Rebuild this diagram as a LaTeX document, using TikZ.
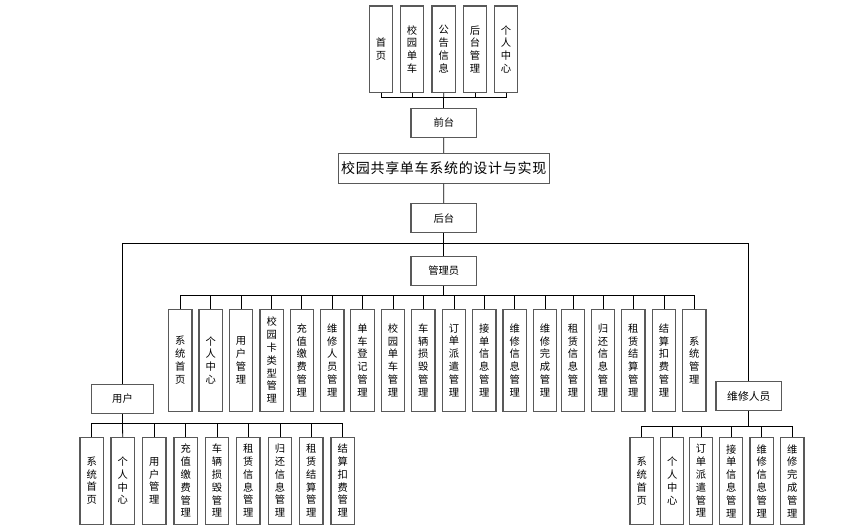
\documentclass[tikz,border=0pt]{standalone}
\usepackage{fontspec}
\newfontfamily\cjk{Noto Sans CJK SC}
\usepackage{tikz}
\usetikzlibrary{positioning, calc}
\tikzset{x=1pt, y=-1pt}
\tikzset{box/.style={draw=black!65, line width=1.1pt, inner sep=0pt, align=center, font=\cjk\fontsize{10.3}{12.8}\selectfont}}
\tikzset{col/.style={box, minimum width=23.4pt, text width=12pt}}
\tikzset{role/.style={box, minimum width=65.7pt, minimum height=29pt}}
\tikzset{link/.style={draw=black, line width=0.8pt}}

\begin{document}
\begin{tikzpicture}

      \useasboundingbox (0,0) rectangle (844,530);

      % TOP LEVEL

      \node[box, minimum width=210.7pt, minimum height=30pt, font=\cjk\fontsize{14}{16}\selectfont\addfontfeature{LetterSpace=5}] (title) at (443.7,168.3) {校园共享单车系统的设计与实现};
      \node[role] (qt) at (443.8,122.8) {前台};
      \node[role] (ht) at (443.8,218.2) {后台};
      \node[role] (gly) at (443.8,270.8) {管理员};
      \node[role, minimum width=61.6pt] (yh) at (122.5,398.7) {用户};
      \node[role, font=\cjk\fontsize{10.8}{12.8}\selectfont] (wx) at (748.8,396.2) {维修人员};

      % FRONT PAGES

      \node[col, minimum height=86.7pt] (q1) at (381,49.3) {首\\页};
      \node[col, minimum height=86.7pt] (q2) at (412,49.3) {校\\园\\单\\车};
      \node[col, minimum height=86.7pt] (q3) at (443.7,49.3) {公\\告\\信\\息};
      \node[col, minimum height=86.7pt] (q4) at (475,49.3) {后\\台\\管\\理};
      \node[col, minimum height=86.7pt] (q5) at (506,49.3) {个\\人\\中\\心};

      % ADMIN PAGES

      \node[col, minimum height=101.7pt] (m1) at (180.3,360.2) {系\\统\\首\\页};
      \node[col, minimum height=101.7pt] (m2) at (210.7,360.2) {个\\人\\中\\心};
      \node[col, minimum height=101.7pt] (m3) at (241,360.2) {用\\户\\管\\理};
      \node[col, minimum height=101.7pt] (m4) at (271.7,360.2) {校\\园\\卡\\类\\型\\管\\理};
      \node[col, minimum height=101.7pt] (m5) at (301.8,360.2) {充\\值\\缴\\费\\管\\理};
      \node[col, minimum height=101.7pt] (m6) at (332.3,360.2) {维\\修\\人\\员\\管\\理};
      \node[col, minimum height=101.7pt] (m7) at (362.5,360.2) {单\\车\\登\\记\\管\\理};
      \node[col, minimum height=101.7pt] (m8) at (393,360.2) {校\\园\\单\\车\\管\\理};
      \node[col, minimum height=101.7pt] (m9) at (423.3,360.2) {车\\辆\\损\\毁\\管\\理};
      \node[col, minimum height=101.7pt] (m10) at (454,360.2) {订\\单\\派\\遣\\管\\理};
      \node[col, minimum height=101.7pt] (m11) at (484.3,360.2) {接\\单\\信\\息\\管\\理};
      \node[col, minimum height=101.7pt] (m12) at (514.7,360.2) {维\\修\\信\\息\\管\\理};
      \node[col, minimum height=101.7pt] (m13) at (545,360.2) {维\\修\\完\\成\\管\\理};
      \node[col, minimum height=101.7pt] (m14) at (573,360.2) {租\\赁\\信\\息\\管\\理};
      \node[col, minimum height=101.7pt] (m15) at (603,360.2) {归\\还\\信\\息\\管\\理};
      \node[col, minimum height=101.7pt] (m16) at (633.3,360.2) {租\\赁\\结\\算\\管\\理};
      \node[col, minimum height=101.7pt] (m17) at (664,360.2) {结\\算\\扣\\费\\管\\理};
      \node[col, minimum height=101.7pt] (m18) at (694.3,360.2) {系\\统\\管\\理};

      % USER PAGES

      \node[col, minimum height=86.7pt] (y1) at (91.7,480.7) {系\\统\\首\\页};
      \node[col, minimum height=86.7pt] (y2) at (122.7,480.7) {个\\人\\中\\心};
      \node[col, minimum height=86.7pt] (y3) at (154.3,480.7) {用\\户\\管\\理};
      \node[col, minimum height=86.7pt] (y4) at (185.7,480.7) {充\\值\\缴\\费\\管\\理};
      \node[col, minimum height=86.7pt] (y5) at (217,480.7) {车\\辆\\损\\毁\\管\\理};
      \node[col, minimum height=86.7pt] (y6) at (248.3,480.7) {租\\赁\\信\\息\\管\\理};
      \node[col, minimum height=86.7pt] (y7) at (280,480.7) {归\\还\\信\\息\\管\\理};
      \node[col, minimum height=86.7pt] (y8) at (311.3,480.7) {租\\赁\\结\\算\\管\\理};
      \node[col, minimum height=86.7pt] (y9) at (342.7,480.7) {结\\算\\扣\\费\\管\\理};

      % REPAIR PAGES

      \node[col, minimum height=86.6pt] (w1) at (641.7,481) {系\\统\\首\\页};
      \node[col, minimum height=86.6pt] (w2) at (672.2,481) {个\\人\\中\\心};
      \node[col, minimum height=86.6pt] (w3) at (701,481) {订\\单\\派\\遣\\管\\理};
      \node[col, minimum height=86.6pt] (w4) at (731.2,481) {接\\单\\信\\息\\管\\理};
      \node[col, minimum height=86.6pt] (w5) at (761.7,481) {维\\修\\信\\息\\管\\理};
      \node[col, minimum height=86.6pt] (w6) at (792.3,481) {维\\修\\完\\成\\管\\理};

      % BUSES

      \coordinate (qbus) at (443.8,97.7);
      \coordinate (hbus) at (443.8,243.3);
      \coordinate (mbus) at (443.8,295.7);
      \coordinate (ybus) at (122.5,423.3);
      \coordinate (wbus) at (748.8,426.7);

      % ARCS

      \draw[link] (title) -- (qt);
      \draw[link] (title) -- (ht);
      \draw[link] (ht) -- (gly);
      \draw[link] (qt.north) -- (qbus);
      \draw[link] (qbus) -| (q1.south);
      \draw[link] (qbus) -| (q2.south);
      \draw[link] (qbus) -- (q3.south);
      \draw[link] (qbus) -| (q4.south);
      \draw[link] (qbus) -| (q5.south);

      \draw[link] (hbus) -| (yh.north);
      \draw[link] (hbus) -| (wx.north);

      \draw[link] (gly.south) -- (mbus);
      \draw[link] (mbus) -| (m1.north);
      \draw[link] (mbus) -| (m2.north);
      \draw[link] (mbus) -| (m3.north);
      \draw[link] (mbus) -| (m4.north);
      \draw[link] (mbus) -| (m5.north);
      \draw[link] (mbus) -| (m6.north);
      \draw[link] (mbus) -| (m7.north);
      \draw[link] (mbus) -| (m8.north);
      \draw[link] (mbus) -| (m9.north);
      \draw[link] (mbus) -| (m10.north);
      \draw[link] (mbus) -| (m11.north);
      \draw[link] (mbus) -| (m12.north);
      \draw[link] (mbus) -| (m13.north);
      \draw[link] (mbus) -| (m14.north);
      \draw[link] (mbus) -| (m15.north);
      \draw[link] (mbus) -| (m16.north);
      \draw[link] (mbus) -| (m17.north);
      \draw[link] (mbus) -| (m18.north);

      \draw[link] (yh.south) -- (ybus);
      \draw[link] (ybus) -| (y1.north);
      \draw[link] (ybus) -- (y2.north);
      \draw[link] (ybus) -| (y3.north);
      \draw[link] (ybus) -| (y4.north);
      \draw[link] (ybus) -| (y5.north);
      \draw[link] (ybus) -| (y6.north);
      \draw[link] (ybus) -| (y7.north);
      \draw[link] (ybus) -| (y8.north);
      \draw[link] (ybus) -| (y9.north);

      \draw[link] (wx.south) -- (wbus);
      \draw[link] (wbus) -| (w1.north);
      \draw[link] (wbus) -| (w2.north);
      \draw[link] (wbus) -| (w3.north);
      \draw[link] (wbus) -| (w4.north);
      \draw[link] (wbus) -| (w5.north);
      \draw[link] (wbus) -| (w6.north);

    \end{tikzpicture}
\end{document}
